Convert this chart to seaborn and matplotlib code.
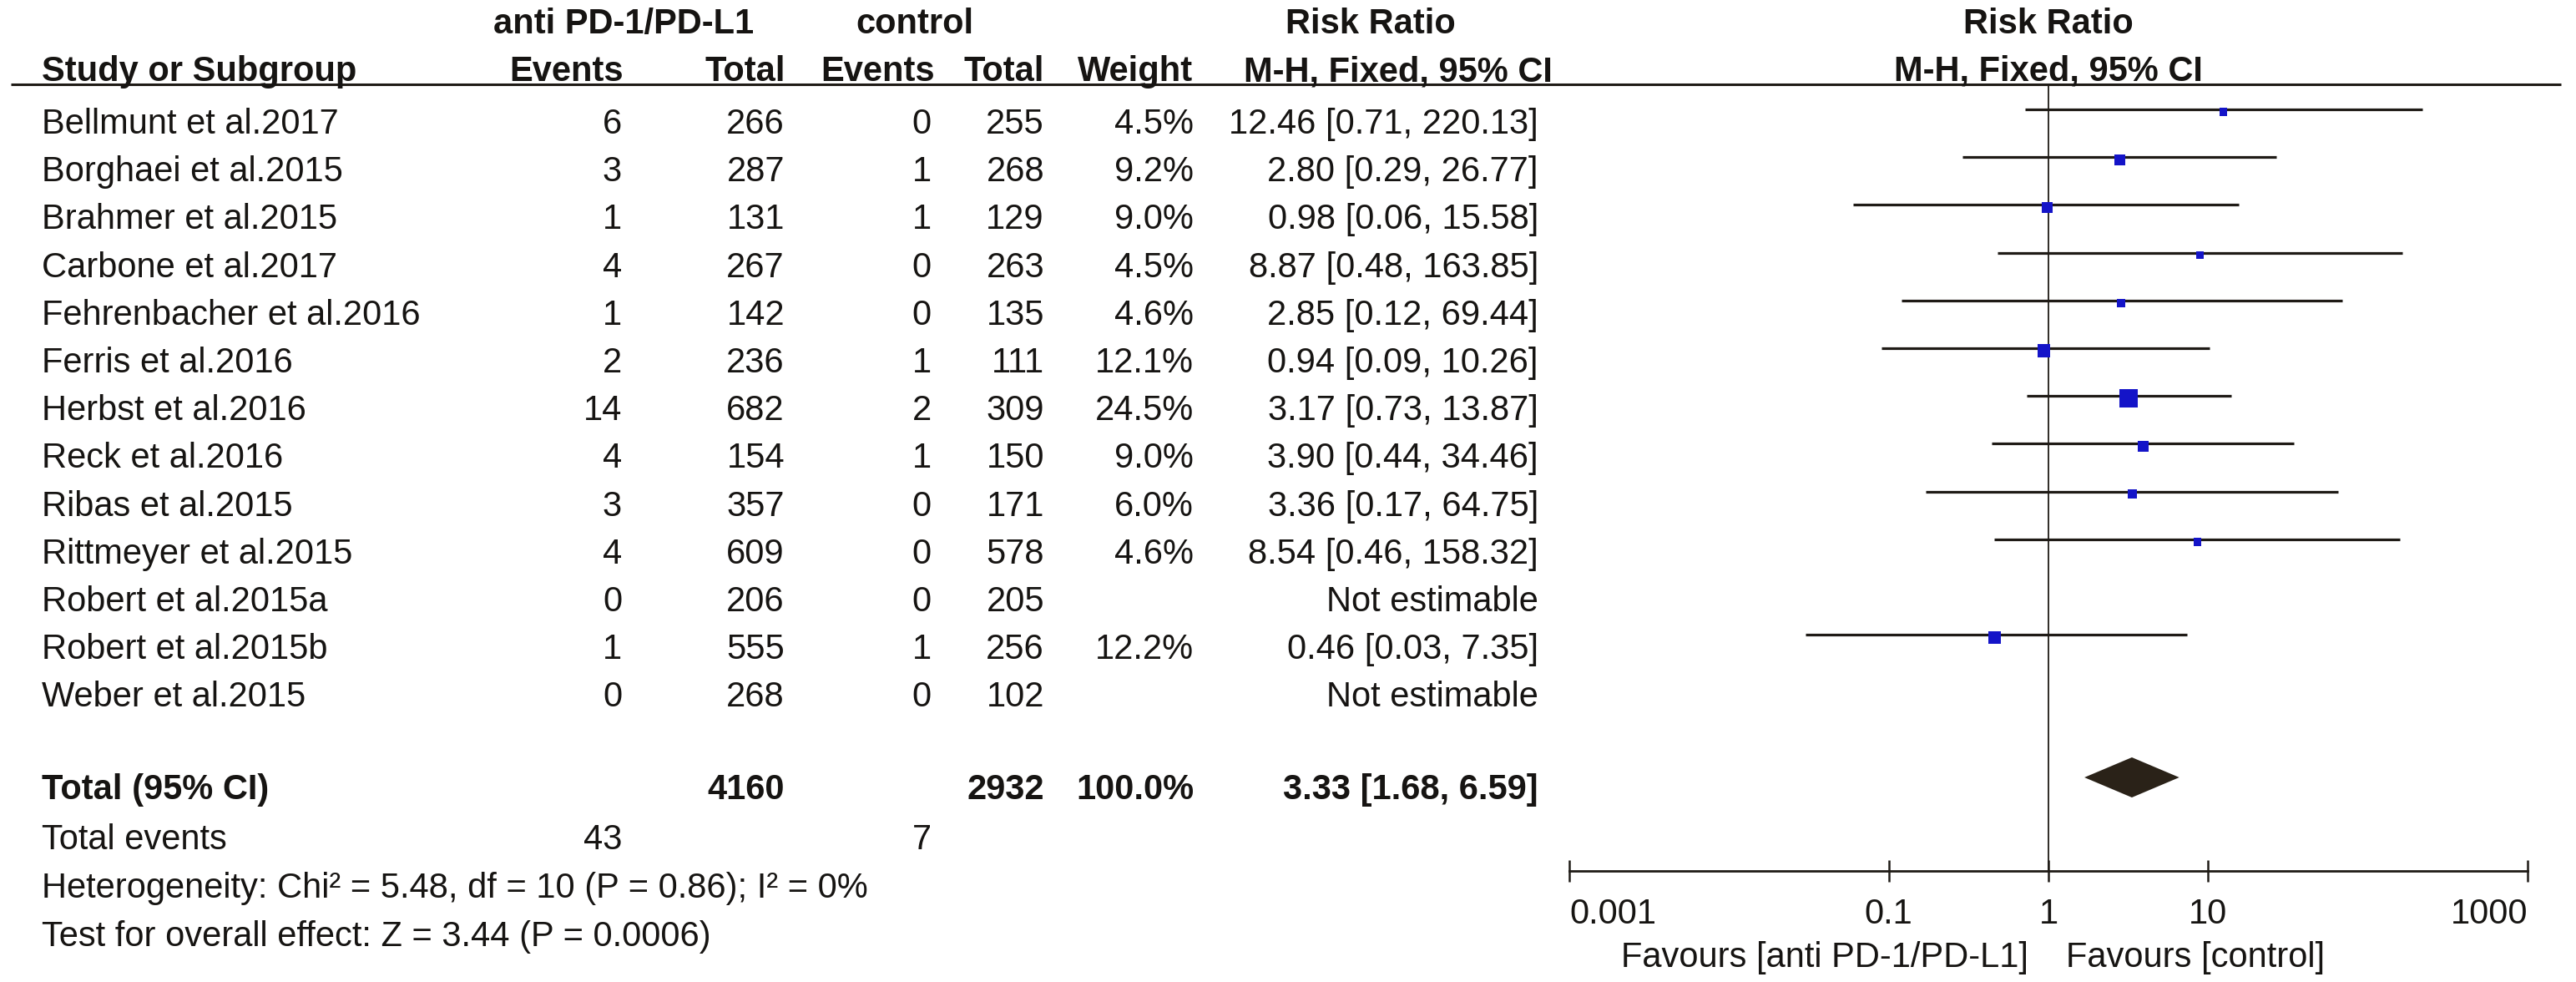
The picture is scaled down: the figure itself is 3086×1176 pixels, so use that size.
import numpy as np
import pandas as pd
import matplotlib
matplotlib.use("Agg")
import matplotlib.pyplot as plt
import seaborn as sns
from matplotlib.ticker import NullLocator

# ---------------- data ----------------
studies = ["Bellmunt et al.2017", "Borghaei et al.2015", "Brahmer et al.2015",
           "Carbone et al.2017", "Fehrenbacher et al.2016", "Ferris et al.2016",
           "Herbst et al.2016", "Reck et al.2016", "Ribas et al.2015",
           "Rittmeyer et al.2015", "Robert et al.2015a", "Robert et al.2015b",
           "Weber et al.2015"]
exp_events = [6, 3, 1, 4, 1, 2, 14, 4, 3, 4, 0, 1, 0]
exp_total = [266, 287, 131, 267, 142, 236, 682, 154, 357, 609, 206, 555, 268]
ctl_events = [0, 1, 1, 0, 0, 1, 2, 1, 0, 0, 0, 1, 0]
ctl_total = [255, 268, 129, 263, 135, 111, 309, 150, 171, 578, 205, 256, 102]
weights = [4.5, 9.2, 9.0, 4.5, 4.6, 12.1, 24.5, 9.0, 6.0, 4.6, np.nan, 12.2, np.nan]
rr = [12.46, 2.80, 0.98, 8.87, 2.85, 0.94, 3.17, 3.90, 3.36, 8.54, np.nan, 0.46, np.nan]
ci_lo = [0.71, 0.29, 0.06, 0.48, 0.12, 0.09, 0.73, 0.44, 0.17, 0.46, np.nan, 0.03, np.nan]
ci_hi = [220.13, 26.77, 15.58, 163.85, 69.44, 10.26, 13.87, 34.46, 64.75, 158.32, np.nan, 7.35, np.nan]

total_exp_n = 4160
total_ctl_n = 2932
total_weight = 100.0
total_exp_events = 43
total_ctl_events = 7
pooled_rr = 3.33
pooled_lo = 1.68
pooled_hi = 6.59
het_chi2 = 5.48
het_df = 10
het_p = 0.86
het_i2 = 0
z_value = 3.44
z_p = 0.0006

axis_ticks = [0.001, 0.1, 1, 10, 1000]
axis_tick_labels = ["0.001", "0.1", "1", "10", "1000"]
exp_label = "anti PD-1/PD-L1"
ctl_label = "control"
effect_title = "Risk Ratio"
effect_method = "M-H, Fixed, 95% CI"

# ---------------- style / layout ----------------
sns.set_theme(style="white")
plt.rcParams["font.family"] = ["Liberation Sans", "DejaVu Sans"]
TXT = "#161412"
LINE = "#1f1b16"
BLUE = "#1414c8"
DIAM = "#2a2218"
FS = 30

W, H = 3086, 1176
ROW0, ROWH = 160.0, 57.2          # baseline pixel of first row, row pitch


def row_of(px):                     # pixel -> row units
    return (px - ROW0) / ROWH


fig = plt.figure(figsize=(W / 100, H / 100), dpi=100)
fig.patch.set_facecolor("white")

# table axes covering the whole figure (x in pixels, y in row units)
tab = fig.add_axes([0, 0, 1, 1])
tab.set_xlim(0, W)
tab.set_ylim(row_of(H), row_of(0))
tab.axis("off")

n = len(studies)
rows = np.arange(n, dtype=float)
y_total = row_of(957)
y_tev = row_of(1017)
y_het = row_of(1075)
y_test = row_of(1133)
y_h1 = row_of(40)
y_h2 = row_of(97)
y_rule = row_of(101)

# column anchors (pixels)
X_NAME = 50
X_EEV, X_ETOT, X_CEV, X_CTOT, X_W, X_RR = 745, 940, 1116, 1251, 1430, 1843


def t(x, y, s, ha="right", bold=False):
    tab.text(x, y, s, ha=ha, va="baseline", fontsize=FS, color=TXT,
             fontweight="bold" if bold else "normal")


# headers
t(747, y_h1, exp_label, ha="center", bold=True)
t(1096, y_h1, ctl_label, ha="center", bold=True)
t(1642, y_h1, effect_title, ha="center", bold=True)
t(X_NAME, y_h2, "Study or Subgroup", ha="left", bold=True)
t(747, y_h2, "Events", bold=True)
t(941, y_h2, "Total", bold=True)
t(1120, y_h2, "Events", bold=True)
t(1251, y_h2, "Total", bold=True)
t(1429, y_h2, "Weight", bold=True)
t(1675, y_h2, effect_method, ha="center", bold=True)
tab.plot([13, 3068], [y_rule, y_rule], color=LINE, lw=2.2, solid_capstyle="butt")

# study rows
for i in range(n):
    y = rows[i]
    t(X_NAME, y, studies[i], ha="left")
    t(X_EEV, y, f"{exp_events[i]}")
    t(X_ETOT, y, f"{exp_total[i]}")
    t(X_CEV, y, f"{ctl_events[i]}")
    t(X_CTOT, y, f"{ctl_total[i]}")
    if np.isnan(rr[i]):
        t(X_RR, y, "Not estimable")
    else:
        t(X_W, y, f"{weights[i]:.1f}%")
        t(X_RR, y, f"{rr[i]:.2f} [{ci_lo[i]:.2f}, {ci_hi[i]:.2f}]")

# totals
t(X_NAME, y_total, "Total (95% CI)", ha="left", bold=True)
t(X_ETOT, y_total, f"{total_exp_n}", bold=True)
t(X_CTOT, y_total, f"{total_ctl_n}", bold=True)
t(X_W, y_total, f"{total_weight:.1f}%", bold=True)
t(X_RR, y_total, f"{pooled_rr:.2f} [{pooled_lo:.2f}, {pooled_hi:.2f}]", bold=True)
t(X_NAME, y_tev, "Total events", ha="left")
t(X_EEV, y_tev, f"{total_exp_events}")
t(X_CEV, y_tev, f"{total_ctl_events}")
t(X_NAME, y_het,
  f"Heterogeneity: Chi\u00b2 = {het_chi2:.2f}, df = {het_df} (P = {het_p:.2f}); I\u00b2 = {het_i2}%",
  ha="left")
t(X_NAME, y_test, f"Test for overall effect: Z = {z_value:.2f} (P = {z_p:.4f})", ha="left")

# ---------------- forest axes ----------------
AX_L, AX_R, AX_T, AX_B = 1880, 3028, 101, 1043
ax = fig.add_axes([AX_L / W, 1 - AX_B / H, (AX_R - AX_L) / W, (AX_B - AX_T) / H])
ax.patch.set_alpha(0)
ax.set_xscale("log")
ax.set_xlim(axis_ticks[0], axis_ticks[-1])
ax.set_ylim(row_of(AX_B), row_of(AX_T))

LINE_OFF = -29 / ROWH     # CI line sits above text baseline
MARK_OFF = -26 / ROWH     # square centre

df = pd.DataFrame({"study": studies, "rr": rr, "lo": ci_lo, "hi": ci_hi,
                   "weight": weights, "row": rows}).dropna()
df["yline"] = df["row"] + LINE_OFF
df["ymark"] = df["row"] + MARK_OFF

ax.axvline(1, color=LINE, lw=1.3, zorder=1)
ax.hlines(df["yline"], df["lo"], df["hi"], color=LINE, lw=2.3, zorder=2)
AREA_PER_W = 10.0
wmin, wmax = df["weight"].min(), df["weight"].max()
sns.scatterplot(data=df, x="rr", y="ymark", size="weight",
                sizes=(AREA_PER_W * wmin, AREA_PER_W * wmax), size_norm=(wmin, wmax),
                marker="s", color=BLUE, linewidth=0, legend=False, ax=ax, zorder=3)

# pooled diamond
yd = y_total + MARK_OFF
hh = 24 / ROWH
ax.fill([pooled_lo, pooled_rr, pooled_hi, pooled_rr], [yd, yd - hh, yd, yd + hh],
        color=DIAM, lw=0, zorder=3)

# right-panel headers centred on the line of no effect
ax.text(1, y_h1, effect_title, ha="center", va="baseline", fontsize=FS, color=TXT,
        fontweight="bold", clip_on=False)
ax.text(1, y_h2, effect_method, ha="center", va="baseline", fontsize=FS, color=TXT,
        fontweight="bold", clip_on=False)

# axis styling
for s in ["top", "left", "right"]:
    ax.spines[s].set_visible(False)
ax.spines["bottom"].set_color(LINE)
ax.spines["bottom"].set_linewidth(2.0)
ax.set_yticks([])
ax.set_xticks(axis_ticks)
ax.set_xticklabels(axis_tick_labels)
ax.xaxis.set_minor_locator(NullLocator())
ax.tick_params(axis="x", direction="inout", length=19, width=1.8, color=LINE,
               pad=13.5, labelsize=FS, labelcolor=TXT, bottom=True)
labs = ax.get_xticklabels()
labs[0].set_ha("left")
labs[-1].set_ha("right")
ax.set_xlabel("")
ax.set_ylabel("")
ax.grid(False)

# favours labels
ax.annotate(f"Favours [{exp_label}]", xy=(1, 0), xycoords=("data", "axes fraction"),
            xytext=(-17, -83), textcoords="offset points", ha="right", va="baseline",
            fontsize=FS, color=TXT)
ax.annotate(f"Favours [{ctl_label}]", xy=(1, 0), xycoords=("data", "axes fraction"),
            xytext=(15, -83), textcoords="offset points", ha="left", va="baseline",
            fontsize=FS, color=TXT)

fig.savefig("out.png", dpi=100, facecolor="white")
